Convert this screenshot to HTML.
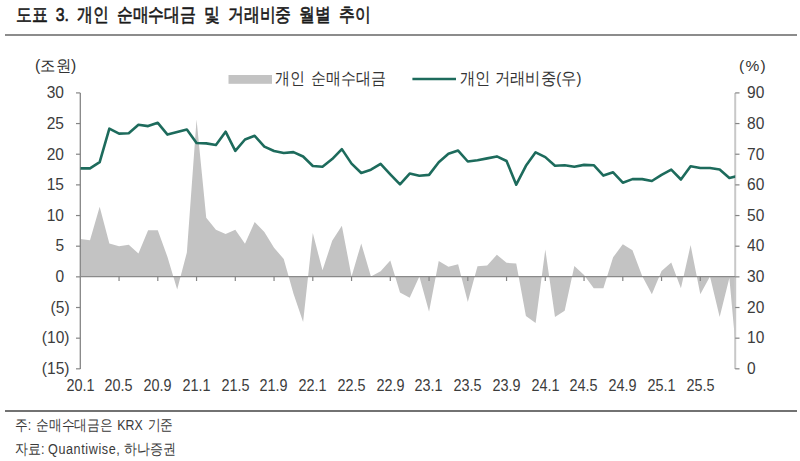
<!DOCTYPE html>
<html><head><meta charset="utf-8">
<style>
html,body{margin:0;padding:0;background:#fff;}
body{width:800px;height:461px;position:relative;overflow:hidden;font-family:"Liberation Sans",sans-serif;color:#333;}
.t{position:absolute;white-space:nowrap;line-height:1.2;transform-origin:0 0;color:#333;}
.title{font-weight:normal;-webkit-text-stroke:0.6px #1a1a1a;color:#1a1a1a;}
.foot{color:#3a3a3a;}
.rule1{position:absolute;left:5px;top:33.5px;width:792px;height:2px;background:#8c8c8c;}
.rule2{position:absolute;left:5px;top:409.9px;width:792px;height:2px;background:#727272;}
.yl,.yr,.xl{position:absolute;font-size:16px;line-height:20px;color:#3c3c3c;white-space:nowrap;}
.yl{left:1.8px;width:67.5px;text-align:right;}
.yl .rp{visibility:hidden;}
.yr{left:747px;}
.xl{width:60px;text-align:center;}
.sy{display:inline-block;transform:scaleX(0.97);}
.yl .sy{transform-origin:100% 50%;}
.yr .sy{transform-origin:0 50%;}
.sxl{display:inline-block;transform:scaleX(0.9);transform-origin:50% 50%;}
svg{position:absolute;left:0;top:0;}
</style></head><body>
<div class="t title" style="left:15.7px;top:3.7px;font-size:19px;transform:scaleX(0.835);word-spacing:4.3px">도표 3. 개인 순매수대금 및 거래비중 월별 추이</div>
<div class="rule1"></div>
<div class="t" style="left:34.58px;top:56.28px;font-size:16.34px;transform:scaleX(0.961);word-spacing:0px">(조원)</div>
<div class="t" style="left:739px;top:57px;font-size:15.5px;transform:scaleX(1.0);word-spacing:0px"><span style="letter-spacing:1.3px">(%)</span></div>
<svg width="800" height="461" viewBox="0 0 800 461">
<defs><clipPath id="pc"><rect x="80.3" y="80" width="654.90" height="300"/></clipPath></defs>
<rect x="228.5" y="75" width="43.5" height="8.8" fill="#c3c3c3"/>
<line x1="412.4" y1="79" x2="456" y2="79" stroke="#1d6b5c" stroke-width="2.6"/>
<path d="M80.30,276.6 L80.30,238.90 89.99,240.30 99.67,206.70 109.36,243.40 119.05,246.20 128.74,244.80 138.43,253.60 148.11,230.20 157.80,230.20 167.49,257.00 177.18,289.40 186.86,252.50 196.55,119.60 206.24,217.80 215.93,229.70 225.61,234.00 235.30,229.70 244.99,243.80 254.68,222.00 264.36,232.00 274.05,247.70 283.74,259.00 293.43,293.60 303.11,322.00 312.80,233.00 322.49,270.30 332.18,240.80 341.86,225.70 351.55,276.40 361.24,243.40 370.93,276.60 380.61,271.20 390.30,260.40 399.99,292.60 409.68,297.80 419.36,276.60 429.05,311.70 438.74,261.10 448.43,266.80 458.11,264.20 467.80,302.10 477.49,266.30 487.18,265.60 496.86,254.70 506.55,262.80 516.24,263.40 525.92,316.00 535.61,323.00 545.30,249.50 554.99,316.90 564.67,310.80 574.36,266.00 584.05,275.00 593.74,288.20 603.42,288.20 613.11,257.30 622.80,244.30 632.49,250.30 642.17,276.00 651.86,294.30 661.55,271.00 671.24,262.50 680.92,288.20 690.61,245.10 700.30,294.30 709.99,276.50 719.67,316.90 729.36,278.00 739.05,384.00 L739.05,276.6 Z" fill="#c3c3c3" clip-path="url(#pc)"/>
<line x1="735.2" y1="92.9" x2="735.2" y2="369.1" stroke="#c8c8c8" stroke-width="2"/>
<g stroke="#858585" stroke-width="1.2">
<line x1="80.3" y1="92.9" x2="80.3" y2="369.1" stroke-width="1.3"/>
<line x1="80.3" y1="276.6" x2="735.2" y2="276.6" stroke="#8a8a8a"/>
<line x1="76" y1="92.91" x2="80.3" y2="92.91"/><line x1="76" y1="123.56" x2="80.3" y2="123.56"/><line x1="76" y1="154.22" x2="80.3" y2="154.22"/><line x1="76" y1="184.88" x2="80.3" y2="184.88"/><line x1="76" y1="215.54" x2="80.3" y2="215.54"/><line x1="76" y1="246.19" x2="80.3" y2="246.19"/><line x1="76" y1="276.85" x2="80.3" y2="276.85"/><line x1="76" y1="307.51" x2="80.3" y2="307.51"/><line x1="76" y1="338.17" x2="80.3" y2="338.17"/><line x1="76" y1="368.82" x2="80.3" y2="368.82"/><line x1="735.2" y1="92.91" x2="739.5" y2="92.91"/><line x1="735.2" y1="123.56" x2="739.5" y2="123.56"/><line x1="735.2" y1="154.22" x2="739.5" y2="154.22"/><line x1="735.2" y1="184.88" x2="739.5" y2="184.88"/><line x1="735.2" y1="215.54" x2="739.5" y2="215.54"/><line x1="735.2" y1="246.19" x2="739.5" y2="246.19"/><line x1="735.2" y1="276.85" x2="739.5" y2="276.85"/><line x1="735.2" y1="307.51" x2="739.5" y2="307.51"/><line x1="735.2" y1="338.17" x2="739.5" y2="338.17"/><line x1="735.2" y1="368.82" x2="739.5" y2="368.82"/>
<line x1="119.05" y1="276.6" x2="119.05" y2="281"/><line x1="157.80" y1="276.6" x2="157.80" y2="281"/><line x1="196.55" y1="276.6" x2="196.55" y2="281"/><line x1="235.30" y1="276.6" x2="235.30" y2="281"/><line x1="274.05" y1="276.6" x2="274.05" y2="281"/><line x1="312.80" y1="276.6" x2="312.80" y2="281"/><line x1="351.55" y1="276.6" x2="351.55" y2="281"/><line x1="390.30" y1="276.6" x2="390.30" y2="281"/><line x1="429.05" y1="276.6" x2="429.05" y2="281"/><line x1="467.80" y1="276.6" x2="467.80" y2="281"/><line x1="506.55" y1="276.6" x2="506.55" y2="281"/><line x1="545.30" y1="276.6" x2="545.30" y2="281"/><line x1="584.05" y1="276.6" x2="584.05" y2="281"/><line x1="622.80" y1="276.6" x2="622.80" y2="281"/><line x1="661.55" y1="276.6" x2="661.55" y2="281"/><line x1="700.30" y1="276.6" x2="700.30" y2="281"/>
</g>
<path d="M80.30,168.40 89.99,168.40 99.67,162.10 109.36,128.70 119.05,133.60 128.74,133.20 138.43,124.80 148.11,126.10 157.80,122.80 167.49,134.60 177.18,132.00 186.86,129.60 196.55,143.00 206.24,143.40 215.93,145.00 225.61,131.70 235.30,150.80 244.99,139.50 254.68,135.80 264.36,146.60 274.05,151.00 283.74,153.00 293.43,152.10 303.11,156.50 312.80,166.00 322.49,166.70 332.18,159.10 341.86,149.10 351.55,163.60 361.24,173.00 370.93,169.70 380.61,163.90 390.30,174.30 399.99,184.40 409.68,173.60 419.36,175.80 429.05,174.90 438.74,162.20 448.43,153.80 458.11,150.60 467.80,161.50 477.49,160.20 487.18,158.40 496.86,156.40 506.55,161.00 516.24,184.70 525.92,165.80 535.61,152.30 545.30,157.10 554.99,165.80 564.67,165.20 574.36,166.80 584.05,164.90 593.74,165.20 603.42,175.60 613.11,172.30 622.80,182.70 632.49,179.10 642.17,179.10 651.86,181.00 661.55,174.90 671.24,169.70 680.92,179.50 690.61,166.20 700.30,168.00 709.99,168.00 719.67,169.50 729.36,178.00 739.05,175.70" fill="none" stroke="#1d6b5c" stroke-width="2.6" stroke-linejoin="round" clip-path="url(#pc)"/>
</svg>
<div class="t" style="left:275.3px;top:69.0px;font-size:17.11px;transform:scaleX(0.879);word-spacing:2.3px">개인 순매수대금</div>
<div class="t" style="left:459.72px;top:69.0px;font-size:16.5px;transform:scaleX(0.902);word-spacing:0px">개인 거래비중(우)</div>
<div class="yl" style="top:83.21px"><span class="sy">30<span class="rp">)</span></span></div><div class="yl" style="top:113.86px"><span class="sy">25<span class="rp">)</span></span></div><div class="yl" style="top:144.52px"><span class="sy">20<span class="rp">)</span></span></div><div class="yl" style="top:175.18px"><span class="sy">15<span class="rp">)</span></span></div><div class="yl" style="top:205.84px"><span class="sy">10<span class="rp">)</span></span></div><div class="yl" style="top:236.49px"><span class="sy">5<span class="rp">)</span></span></div><div class="yl" style="top:267.15px"><span class="sy">0<span class="rp">)</span></span></div><div class="yl" style="top:297.81px"><span class="sy">(5)</span></div><div class="yl" style="top:328.47px"><span class="sy">(10)</span></div><div class="yl" style="top:359.12px"><span class="sy">(15)</span></div><div class="yr" style="top:83.21px"><span class="sy">90</span></div><div class="yr" style="top:113.86px"><span class="sy">80</span></div><div class="yr" style="top:144.52px"><span class="sy">70</span></div><div class="yr" style="top:175.18px"><span class="sy">60</span></div><div class="yr" style="top:205.84px"><span class="sy">50</span></div><div class="yr" style="top:236.49px"><span class="sy">40</span></div><div class="yr" style="top:267.15px"><span class="sy">30</span></div><div class="yr" style="top:297.81px"><span class="sy">20</span></div><div class="yr" style="top:328.47px"><span class="sy">10</span></div><div class="yr" style="top:359.12px"><span class="sy">0</span></div><div class="xl" style="left:50.30px;top:376px"><span class="sxl">20.1</span></div><div class="xl" style="left:89.05px;top:376px"><span class="sxl">20.5</span></div><div class="xl" style="left:127.80px;top:376px"><span class="sxl">20.9</span></div><div class="xl" style="left:166.55px;top:376px"><span class="sxl">21.1</span></div><div class="xl" style="left:205.30px;top:376px"><span class="sxl">21.5</span></div><div class="xl" style="left:244.05px;top:376px"><span class="sxl">21.9</span></div><div class="xl" style="left:282.80px;top:376px"><span class="sxl">22.1</span></div><div class="xl" style="left:321.55px;top:376px"><span class="sxl">22.5</span></div><div class="xl" style="left:360.30px;top:376px"><span class="sxl">22.9</span></div><div class="xl" style="left:399.05px;top:376px"><span class="sxl">23.1</span></div><div class="xl" style="left:437.80px;top:376px"><span class="sxl">23.5</span></div><div class="xl" style="left:476.55px;top:376px"><span class="sxl">23.9</span></div><div class="xl" style="left:515.30px;top:376px"><span class="sxl">24.1</span></div><div class="xl" style="left:554.05px;top:376px"><span class="sxl">24.5</span></div><div class="xl" style="left:592.80px;top:376px"><span class="sxl">24.9</span></div><div class="xl" style="left:631.55px;top:376px"><span class="sxl">25.1</span></div><div class="xl" style="left:670.30px;top:376px"><span class="sxl">25.5</span></div>
<div class="rule2"></div>
<div class="t foot" style="left:15.44px;top:416.98px;font-size:14.55px;transform:scaleX(0.848);word-spacing:1.8px">주: 순매수대금은 KRX 기준</div>
<div class="t foot" style="left:15.44px;top:440.5px;font-size:14.55px;transform:scaleX(0.866);word-spacing:0px">자료: <span style="letter-spacing:0.7px">Quantiwise,</span> 하나증권</div>
</body></html>
